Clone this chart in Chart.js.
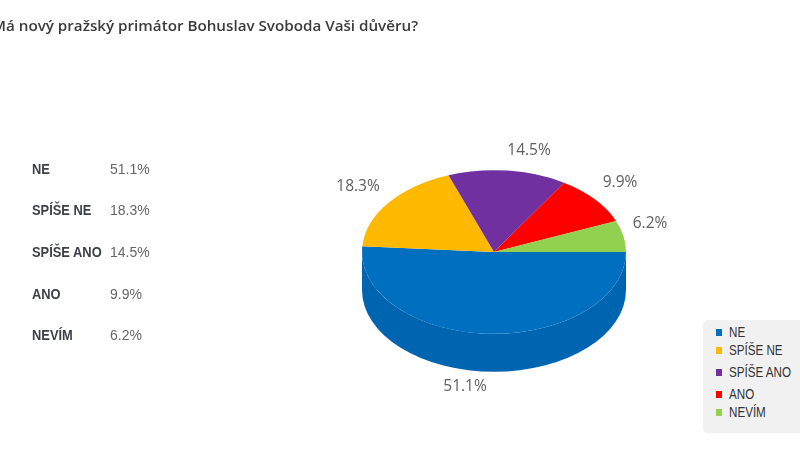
<!DOCTYPE html>
<html>
<head>
<meta charset="utf-8">
<script src="https://cdn.jsdelivr.net/npm/chart.js@4"></script>
<style>
    html, body { margin: 0; padding: 0; background: #fff; overflow: hidden; }
    #page { position: relative; width: 800px; height: 450px; overflow: hidden; filter: blur(0.35px); }
    #chart { position: absolute; left: 0; top: 0; }
    #title { position: absolute; left: -8px; top: 15px; font: 600 15.2px "Open Sans", sans-serif; color: #3b3b3b; white-space: nowrap; }
    .rowName { position: absolute; left: 32px; font: bold 14px "Liberation Sans", sans-serif; color: #3c4048; white-space: nowrap; transform: scaleX(0.92); transform-origin: left; }
    .rowValue { position: absolute; font: 14px "Liberation Sans", sans-serif; color: #666; }
    #legend { position: absolute; left: 703px; top: 320px; width: 110px; height: 113px; background: #f1f1f1; border-radius: 5px; }
    .legendText { position: absolute; left: 26px; font: 14px "Liberation Sans", sans-serif; color: #333; white-space: nowrap; transform: scaleX(0.83); transform-origin: left; }
    .legendBox { position: absolute; left: 13px; width: 6px; height: 7px; }
</style>
</head>
<body>
<div id="page">
    <canvas id="chart" width="800" height="450"></canvas>
    <div id="title">Má nový pražský primátor Bohuslav Svoboda Vaši důvěru?</div>
    <div id="legend"></div>
</div>
<script>
const categories = ['NE', 'SPÍŠE NE', 'SPÍŠE ANO', 'ANO', 'NEVÍM'];
const percentages = [51.1, 18.3, 14.5, 9.9, 6.2];
const sliceColors = ['#006fbf', '#ffb900', '#7030a0', '#ff0000', '#92d050'];
const sideColors = ['#0065b1', '#d99e00', '#5f2888', '#d90000', '#7cb144'];

// layout of the text around the pie, not data
const squash = 0.62;
const depth = 38;
const labelSpots = [[465, 387], [358, 187], [529, 151], [620, 183], [650, 224]];
const rowTops = [161, 202, 244, 286, 327];
const valueLefts = [110, 110, 110, 110, 110];
const legendTops = [4, 22, 44, 66, 84];

const fmt = v => v.toFixed(1) + '%';

// --- left table ---
const page = document.getElementById('page');
categories.forEach((name, i) => {
    const n = document.createElement('div');
    n.className = 'rowName';
    n.style.top = rowTops[i] + 'px';
    n.textContent = name;
    page.appendChild(n);
    const v = document.createElement('div');
    v.className = 'rowValue';
    v.style.top = rowTops[i] + 'px';
    v.style.left = valueLefts[i] + 'px';
    v.textContent = fmt(percentages[i]);
    page.appendChild(v);
});

// --- legend box ---
const legend = document.getElementById('legend');
categories.forEach((name, i) => {
    const box = document.createElement('div');
    box.className = 'legendBox';
    box.style.top = (legendTops[i] + 5) + 'px';
    box.style.background = sliceColors[i];
    legend.appendChild(box);
    const t = document.createElement('div');
    t.className = 'legendText';
    t.style.top = legendTops[i] + 'px';
    t.textContent = name;
    legend.appendChild(t);
});

// --- fake 3D: squash the pie and draw the rim under it ---
const pie3d = {
    id: 'pie3d',
    beforeDatasetsDraw(chart) {
        const ctx = chart.ctx;
        const arcs = chart.getDatasetMeta(0).data;
        const cx = arcs[0].x, cy = arcs[0].y, r = arcs[0].outerRadius;
        ctx.save();
        arcs.forEach((arc, i) => {
            // only the part of a slice facing the viewer has a visible rim
            const from = Math.max(arc.startAngle, 0);
            const to = Math.min(arc.endAngle, Math.PI);
            if (to <= from) return;
            ctx.beginPath();
            ctx.ellipse(cx, cy + depth, r, r * squash, 0, from, to);
            ctx.ellipse(cx, cy, r, r * squash, 0, to, from, true);
            ctx.closePath();
            ctx.fillStyle = sideColors[i];
            ctx.fill();
        });
        ctx.restore();
        ctx.save();
        ctx.translate(cx, cy);
        ctx.scale(1, squash);
        ctx.translate(-cx, -cy);
    },
    afterDatasetsDraw(chart) {
        const ctx = chart.ctx;
        ctx.restore();
        ctx.save();
        ctx.font = '15.5px "Open Sans", sans-serif';
        ctx.fillStyle = '#5f5f5f';
        ctx.textAlign = 'center';
        ctx.textBaseline = 'middle';
        percentages.forEach((v, i) => ctx.fillText(fmt(v), labelSpots[i][0], labelSpots[i][1]));
        ctx.restore();
    }
};

new Chart(document.getElementById('chart'), {
    type: 'pie',
    data: {
        labels: categories,
        datasets: [{
            data: percentages,
            backgroundColor: sliceColors,
            borderWidth: 0,
            clip: false
        }]
    },
    options: {
        responsive: false,
        animation: false,
        rotation: 90,
        layout: { padding: { left: 362, right: 174, top: 120, bottom: 66 } },
        plugins: { legend: { display: false }, tooltip: { enabled: false } }
    },
    plugins: [pie3d]
});
</script>
</body>
</html>
